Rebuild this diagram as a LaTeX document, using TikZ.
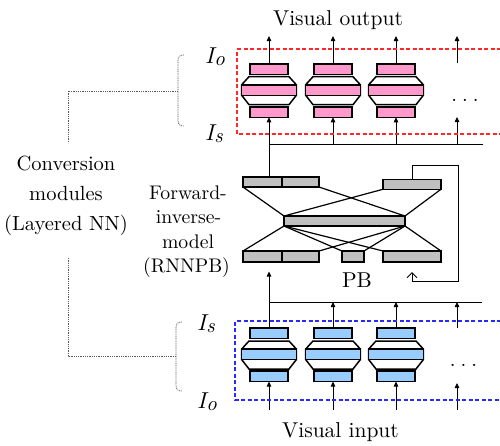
\documentclass[tikz,border=0pt]{standalone}
\usepackage{fontspec}
\setmainfont{lmroman10-regular.otf}[ItalicFont=lmroman10-italic.otf, BoldFont=lmroman10-bold.otf]
\usetikzlibrary{arrows.meta}
\definecolor{pinkf}{RGB}{255,153,204}
\definecolor{bluef}{RGB}{153,204,255}
\definecolor{grayf}{RGB}{192,192,192}
\definecolor{redd}{RGB}{255,40,40}
\definecolor{blued}{RGB}{40,40,255}
\newcommand\Ilab[1]{{\fontsize{23}{23}\selectfont\itshape I\kern0.2pt\raisebox{-2pt}{\fontsize{20.5}{20.5}\selectfont #1}}}
\begin{document}
\begin{tikzpicture}[x=1pt,y=-1pt,
  modbar/.style={draw, line width=1.5pt, inner sep=0pt, outer sep=0pt, minimum width=38pt, minimum height=10.5pt},
  midbar/.style={modbar, minimum width=54.6pt},
  hexo/.style={draw, line width=1.5pt, fill=white, line join=miter},
  gbox/.style={draw, line width=1.2pt, fill=grayf, inner sep=0pt, outer sep=0pt, minimum height=10pt},
  net/.style={line width=1.2pt},
  arr/.style={line width=0.8pt, -{Triangle[length=5pt,width=4.5pt]}},
  plain/.style={line width=0.8pt},
  dots/.style={line width=0.7pt, black!65, dash pattern=on 1pt off 0.8pt},
  lbl/.style={inner sep=0pt, font=\fontsize{20.5}{24}\selectfont},
  flbl/.style={inner sep=0pt, font=\fontsize{19.7}{24}\selectfont},
  vlbl/.style={inner sep=0pt, font=\fontsize{21.5}{24}\selectfont},
  fb/.style={line width=1pt, -{Straight Barb[length=5pt,width=10pt]}},
  frame/.style={line width=1.2pt, dash pattern=on 4pt off 2.5pt}
]
\useasboundingbox (0,0) rectangle (500,445);

% ---------------- modules ----------------
\foreach \i/\cx in {1/269,2/333,3/396}{
  % upper (pink)
  \draw[hexo] (\cx-20,76.7) -- (\cx+20,76.7) -- (\cx+27.3,84.7) -- (\cx+27.3,95.3) -- (\cx+20,104.7) -- (\cx-20,104.7) -- (\cx-27.3,95.3) -- (\cx-27.3,84.7) -- cycle;
  \node[modbar, fill=pinkf] (ut\i) at (\cx,69) {};
  \node[midbar, fill=pinkf] (um\i) at (\cx,90) {};
  \node[modbar, fill=pinkf] (ub\i) at (\cx,112) {};
  \coordinate (out\i) at (\cx,36);
  \draw[arr] (ut\i.north) -- (out\i);
  % lower (blue)
  \draw[hexo] (\cx-20,341) -- (\cx+20,341) -- (\cx+27.3,349) -- (\cx+27.3,359.6) -- (\cx+20,369) -- (\cx-20,369) -- (\cx-27.3,359.6) -- (\cx-27.3,349) -- cycle;
  \node[modbar, fill=bluef] (lt\i) at (\cx,333.3) {};
  \node[midbar, fill=bluef] (lm\i) at (\cx,354.3) {};
  \node[modbar, fill=bluef] (lb\i) at (\cx,376.3) {};
  \coordinate (in\i) at (\cx,410);
  \draw[arr] (in\i) -- (lb\i.south);
}
% fourth column (arrows only)
\coordinate (o4a) at (457,63);
\coordinate (out4) at (457,36);
\draw[arr] (o4a) -- (out4);
\coordinate (i4a) at (457,410);
\coordinate (i4b) at (457,383);
\draw[arr] (i4a) -- (i4b);
\node[lbl, anchor=base] (dotsU) at (465,101) {.\hspace{5pt}.\hspace{5pt}.};
\node[lbl, anchor=base] (dotsL) at (463.5,366) {.\hspace{5pt}.\hspace{5pt}.};

% ---------------- RNNPB ----------------
\node[gbox, minimum width=39pt] (tl1) at (262.5,182) {};
\node[gbox, minimum width=37pt] (tl2) at (300.5,182) {};
\node[gbox, minimum width=58pt, minimum height=9.5pt] (tr) at (412,184.5) {};
\node[gbox, minimum width=121pt] (mid) at (344.5,221) {};
\node[gbox, minimum width=39pt, minimum height=11pt] (bl1) at (262.5,256.5) {};
\node[gbox, minimum width=37pt, minimum height=11pt] (bl2) at (300.5,256.5) {};
\node[gbox, minimum width=22pt, minimum height=11pt] (pb) at (353,256.5) {};
\node[gbox, minimum width=58pt, minimum height=11pt] (br) at (412,256.5) {};
\draw[net] (tl1.south west) -- (mid.north west);
\draw[net] (tl2.south east) -- (mid.north east);
\draw[net] (tr.south west) -- (mid.north west);
\draw[net] (tr.south east) -- (mid.north east);
\draw[net] (mid.south west) -- (bl1.north west);
\draw[net] (mid.south west) -- (pb.north west);
\draw[net] (mid.south west) -- (br.north west);
\draw[net] (mid.south east) -- (bl2.north east);
\draw[net] (mid.south east) -- (pb.north east);
\draw[net] (mid.south east) -- (br.north east);
\node[vlbl, anchor=base] (pbl) at (357,287) {PB};

% feedback loop
\coordinate (fr1) at (458,165);
\coordinate (fr2) at (458,281);
\coordinate (fbt) at (412,272);
\draw[fb] (tr.north) |- (fr1) -- (fr2) -| (fbt);

% connections to upper modules
\coordinate (j1) at (269,177);
\draw[arr] (j1) -- (ub1.south);
\coordinate (h0) at (269,144);
\coordinate (hE) at (483,144);
\draw[plain] (h0) -- (hE);
\draw[arr] (ub2.south |- h0) -- (ub2.south);
\draw[arr] (ub3.south |- h0) -- (ub3.south);
\coordinate (u4) at (457,117);
\draw[arr] (u4 |- h0) -- (u4);

% connections from lower modules
\coordinate (k1) at (269,271.5);
\draw[arr] (lt1.north) -- (k1);
\coordinate (h1) at (269,302);
\coordinate (hF) at (482,302);
\draw[plain] (h1) -- (hF);
\draw[arr] (lt2.north) -- (lt2.north |- h1);
\draw[arr] (lt3.north) -- (lt3.north |- h1);
\coordinate (l4) at (457,328);
\draw[arr] (l4) -- (l4 |- h1);

% dashed frames
\draw[frame, redd] (501,49) -| (237,134) -- (501,134);
\draw[frame, blued] (501,321) -| (235,400) -- (501,400);

% labels
\node[vlbl, anchor=base] (vout) at (338,25) {Visual output};
\node[vlbl, anchor=base] (vin) at (340.5,437) {Visual input};
\node[inner sep=0pt, anchor=base west] (Io1) at (205,63) {\Ilab{o}};
\node[inner sep=0pt, anchor=base west] (Is1) at (205,140) {\Ilab{s}};
\node[inner sep=0pt, anchor=base west] (Is2) at (197,330) {\Ilab{s}};
\node[inner sep=0pt, anchor=base west] (Io2) at (197,408) {\Ilab{o}};

\node[lbl, anchor=base] (cv1) at (66,170) {Conversion};
\node[lbl, anchor=base] (cv2) at (66,200) {modules};
\node[lbl, anchor=base] (cv3) at (66,230) {(Layered NN)};

\node[flbl, anchor=base] (fw1) at (188,199) {Forward-};
\node[flbl, anchor=base] (fw2) at (188.5,223) {inverse-};
\node[flbl, anchor=base] (fw3) at (188,248) {model};
\node[flbl, anchor=base] (fw4) at (186.5,272) {(RNNPB)};

% brackets
\draw[dots] (184,55) .. controls (179.5,55) and (178,56.5) .. (178,61) -- (178,120) .. controls (178,124.5) and (179.5,126) .. (184,126);
\coordinate (bU) at (178,91);
\coordinate (bU2) at (68,91);
\coordinate (bU3) at (68,143);
\draw[dots] (bU) -- (bU2) -- (bU3);
\draw[dots] (182,322) .. controls (177.5,322) and (176,323.5) .. (176,328) -- (176,385) .. controls (176,389.5) and (177.5,391) .. (182,391);
\coordinate (bL) at (176,356);
\coordinate (bL2) at (68,356);
\coordinate (bL3) at (68,258);
\draw[dots] (bL) -- (bL2) -- (bL3);
\end{tikzpicture}
\end{document}
